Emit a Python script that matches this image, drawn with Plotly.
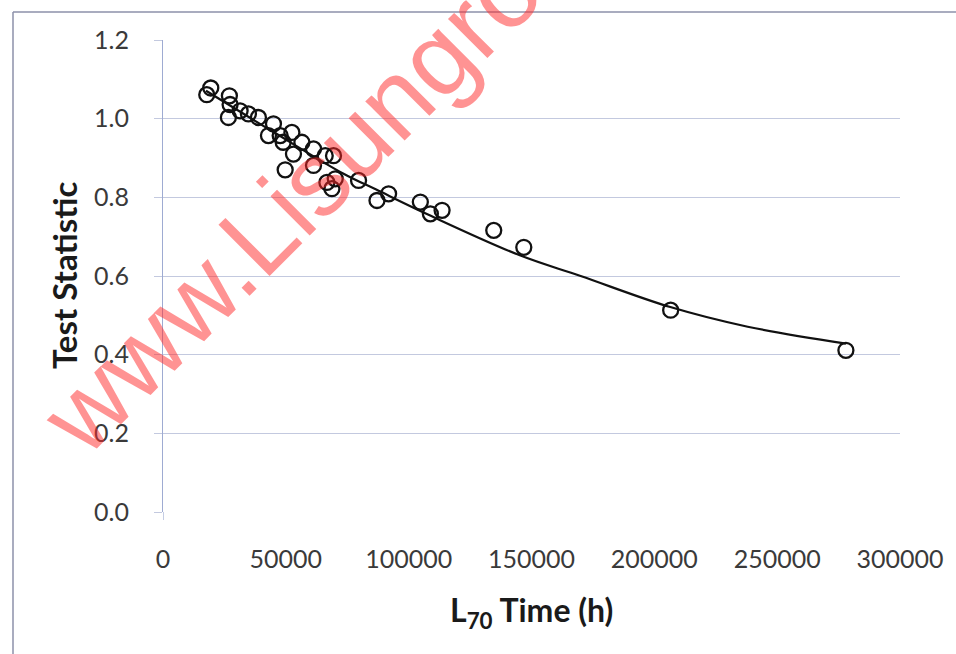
import plotly.graph_objects as go

# Scatter data (L70 time in hours, test statistic)
l70_hours = [17810, 19440, 27020, 27310, 26620, 31390, 34770, 38840, 44960, 42920,
             47690, 52460, 48910, 56530, 61260, 66030, 69410, 61260, 49730, 70110,
             66720, 68760, 79600, 87100, 91830, 104750, 108830, 113600, 134630, 146860,
             206650, 277980, 53110]
test_stat = [1.061, 1.078, 1.058, 1.036, 1.003, 1.020, 1.012, 1.003, 0.987, 0.957,
             0.957, 0.965, 0.940, 0.940, 0.923, 0.906, 0.906, 0.881, 0.870, 0.847,
             0.838, 0.822, 0.843, 0.792, 0.809, 0.788, 0.758, 0.767, 0.716, 0.673,
             0.513, 0.411, 0.910]

# Trend curve, points
curve_x = [17500, 45000, 73500, 87000, 109000, 145500, 170000, 206500, 238000, 278000]
curve_y = [1.071, 0.966, 0.860, 0.819, 0.753, 0.652, 0.600, 0.521, 0.471, 0.428]

y_ticks = [0.0, 0.2, 0.4, 0.6, 0.8, 1.0, 1.2]
x_ticks = [0, 50000, 100000, 150000, 200000, 250000, 300000]

fig = go.Figure()
fig.add_trace(go.Scatter(
    x=curve_x, y=curve_y, mode="lines", line=dict(color="#111111", width=2.2, shape="spline"),
    showlegend=False, hoverinfo="skip"))
fig.add_trace(go.Scatter(
    x=l70_hours, y=test_stat, mode="markers",
    marker=dict(symbol="circle-open", size=15, color="#111111", line=dict(width=2.3)),
    showlegend=False))

grid_col = "#c3c9df"
axis_col = "#9eabd2"
tick_font = dict(family="Lato", size=25, color="#3a3a3a")

fig.update_layout(
    width=956, height=654,
    margin=dict(l=163, r=56, t=40, b=142),
    paper_bgcolor="white", plot_bgcolor="white",
    xaxis=dict(range=[0, 300000], tickvals=x_ticks, ticktext=[str(v) for v in x_ticks],
               showgrid=False, zeroline=False, showline=False, ticks="",
               tickfont=tick_font, ticklabelstandoff=30),
    yaxis=dict(range=[0, 1.2], tickvals=y_ticks, ticktext=[f"{v:.1f}" for v in y_ticks],
               showgrid=True, gridcolor=grid_col, gridwidth=1, zeroline=False,
               showline=True, linecolor=axis_col, linewidth=1.2,
               ticks="outside", ticklen=8, tickcolor=grid_col,
               tickfont=tick_font, ticklabelstandoff=20),
)

# y-axis line extension below zero (tick mark at x=0)
fig.add_shape(type="line", xref="x", yref="paper", x0=0, x1=0, y0=0, y1=-8/472,
              line=dict(color=axis_col, width=1.2))

# Outer chart frame (left and top edges visible)
fig.add_shape(type="line", xref="paper", yref="paper",
              x0=(13 - 163) / 737, x1=(956 - 163) / 737, y0=(512 - 12) / 472, y1=(512 - 12) / 472,
              line=dict(color="#8d90aa", width=1.5))
fig.add_shape(type="line", xref="paper", yref="paper",
              x0=(13 - 163) / 737, x1=(13 - 163) / 737, y0=(512 - 12) / 472, y1=(512 - 660) / 472,
              line=dict(color="#8d90aa", width=1.5))

# Axis titles
fig.add_annotation(text="<b>Test Statistic</b>", xref="paper", yref="paper",
                   x=(64 - 163) / 737, y=0.5, textangle=-90, showarrow=False,
                   xanchor="center", yanchor="middle",
                   font=dict(family="Lato", size=33, color="#1a1a1a"))
fig.add_annotation(text="<b>L<sub>70</sub> Time (h)</b>", xref="paper", yref="paper",
                   x=0.5, y=(512 - 612) / 472, showarrow=False,
                   xanchor="center", yanchor="middle",
                   font=dict(family="Lato", size=32, color="#1a1a1a"))

# Watermark
fig.add_annotation(text="www.Lisungroup.com", xref="paper", yref="paper",
                   x=(412 - 163) / 737, y=(512 - 81) / 472, textangle=-45, showarrow=False,
                   xanchor="center", yanchor="middle",
                   font=dict(family="Liberation Sans", size=105, color="rgba(255,40,40,0.5)"))

fig.write_html("out.html")
